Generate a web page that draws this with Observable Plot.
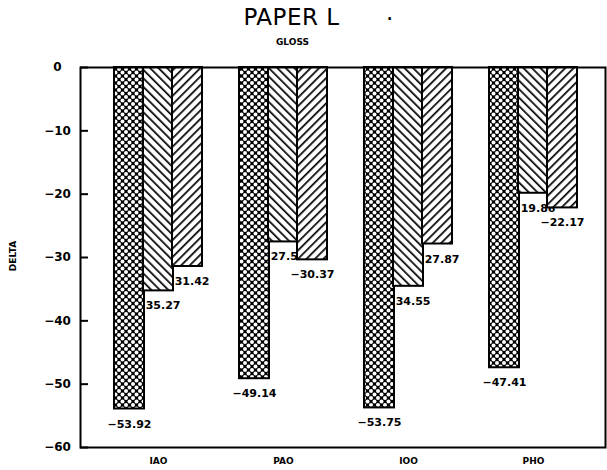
<!DOCTYPE html>
<html><head><meta charset="utf-8">
<script src="https://cdn.jsdelivr.net/npm/d3@7"></script>
<script src="https://cdn.jsdelivr.net/npm/@observablehq/plot@0.6"></script>
<style>
body{margin:0;background:#fff;width:607px;height:470px;position:relative;overflow:hidden;font-family:"DejaVu Sans",sans-serif;}
#head{position:relative;height:55px;}
#t1{position:absolute;left:0;width:607px;top:4px;text-align:center;font-size:23px;font-family:"DejaVu Sans",sans-serif;font-weight:normal;letter-spacing:0.5px;}
#t2{position:absolute;left:-11px;width:607px;top:37px;text-align:center;font-size:9px;font-weight:bold;}
#ylab{position:absolute;left:-7px;top:251px;width:40px;text-align:center;font-size:9px;font-weight:bold;transform:rotate(-90deg);}
</style></head>
<body>
<div id="head"><div id="t1"></div><div id="t2"></div></div>
<div id="chart"></div>
<div id="ylab"></div>
<script>
const title = "PAPER L";
const subtitle = "GLOSS";
const yLabel = "DELTA";
const categories = ["IAO", "PAO", "IOO", "PHO"];
const series = ["A", "B", "C"];
const valuesA = [-53.92, -49.14, -53.75, -47.41];
const valuesB = [-35.27, -27.54, -34.55, -19.86];
const valuesC = [-31.42, -30.37, -27.87, -22.17];
const yTicks = [0, -10, -20, -30, -40, -50, -60];

document.getElementById("t1").innerHTML = `<span style="position:relative;left:-12px">${title}</span><span style="position:absolute;left:386px;top:-5px">.</span>`;
document.getElementById("t2").textContent = subtitle;
document.getElementById("ylab").textContent = yLabel;

const seriesValues = [valuesA, valuesB, valuesC];
const fills = ["url(#patCross)", "url(#patBack)", "url(#patFwd)"];
const fmt = d3.format(".2f");
const barW = 29; // width of one sub-bar inside a category band (style)

const barMarks = [];
const textMarks = [];
series.forEach((s, j) => {
  const data = categories.map((c, i) => ({cat: c, series: s, value: seriesValues[j][i]}));
  textMarks.push(Plot.text(data, {x: "cat", y: "value", text: d => fmt(d.value), dy: 15, dx: (j - 1) * barW,
    fontSize: 11, fontWeight: "bold", fontFamily: "DejaVu Sans", fill: "#000"}));
  barMarks.push(Plot.barY(data, {x: "cat", y: "value", fill: fills[j], stroke: "#000", strokeWidth: 2,
    insetLeft: j * barW, insetRight: (2 - j) * barW}));
});

const plot = Plot.plot({
  width: 607,
  height: 415,
  marginLeft: 80,
  marginRight: 2,
  marginTop: 12,
  marginBottom: 23,
  style: {background: "#fff", color: "#000"},
  x: {domain: categories, paddingInner: 0.30, paddingOuter: 0.245, align: 0.54, label: null},
  y: {domain: [-60, 0], label: null},
  marks: [
    ...textMarks,
    ...barMarks,
    Plot.frame({stroke: "#000", strokeWidth: 2}),
    Plot.axisY({ticks: yTicks, tickSize: -8, tickPadding: 31, textAnchor: "middle", strokeWidth: 2, fontSize: 12, fontWeight: "bold", fontFamily: "DejaVu Sans", label: null}),
    Plot.axisX({tickSize: 0, tickPadding: 10, fontSize: 9, fontWeight: "bold", fontFamily: "DejaVu Sans", label: null})
  ]
});

const svg = d3.select(plot);
const defs = svg.insert("defs", ":first-child");
const T = 7;
const pc = defs.append("pattern").attr("id", "patCross").attr("patternUnits", "userSpaceOnUse").attr("width", T).attr("height", T);
pc.append("rect").attr("width", T).attr("height", T).attr("fill", "#000");
[[T/2,T/2],[0,0],[T,0],[0,T],[T,T]].forEach(([cx, cy]) => pc.append("circle").attr("cx", cx).attr("cy", cy).attr("r", 2.0).attr("fill", "#fff"));
function lines(id, angle) {
  const p = defs.append("pattern").attr("id", id).attr("patternUnits", "userSpaceOnUse").attr("width", 6).attr("height", 6).attr("patternTransform", `rotate(${angle})`);
  p.append("rect").attr("width", 6).attr("height", 6).attr("fill", "#fff");
  p.append("line").attr("x1", 0).attr("y1", 0).attr("x2", 0).attr("y2", 6).attr("stroke", "#000").attr("stroke-width", 3.4);
}
lines("patBack", -45);
lines("patFwd", 45);

document.getElementById("chart").appendChild(plot);
</script>
</body></html>
